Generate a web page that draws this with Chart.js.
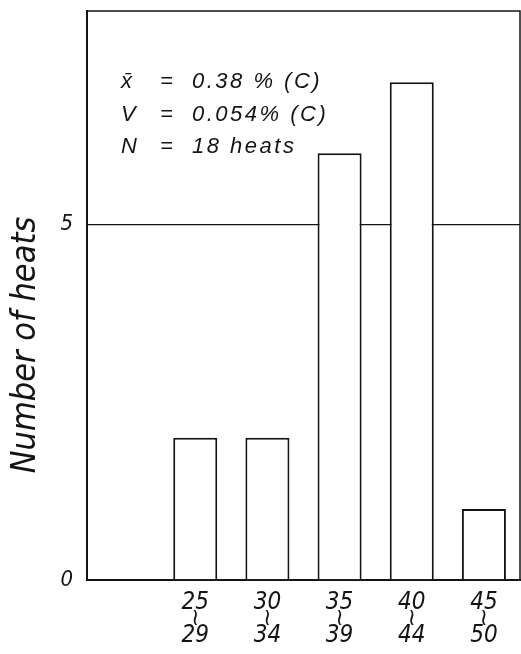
<!DOCTYPE html>
<html>
<head>
<meta charset="utf-8">
<script src="https://cdn.jsdelivr.net/npm/chart.js@4.4.1/dist/chart.umd.min.js"></script>
<style>
  body { margin: 0; background: #fff; }
  canvas { display: block; }
</style>
</head>
<body>
<canvas id="grafico" width="521" height="654"></canvas>
<script>
// data
const rangeStart = ['25', '30', '35', '40', '45'];
const rangeEnd = ['29', '34', '39', '44', '50'];
const heats = [2, 2, 6, 7, 1];
const yTicks = [0, 5];
const statLines = [
    ['x\u0304', '=', '0.38 % (C)'],
    ['V', '=', '0.054% (C)'],
    ['N', '=', '18 heats']
];

const FONT = "'DejaVu Sans Condensed', 'Liberation Sans', sans-serif";
const STAT_FONT = "'Liberation Sans', 'DejaVu Sans', sans-serif";
const INK = '#141414';

// first slot on the axis is left empty, as in the original
const labels = [''].concat(rangeStart.map((s, i) => [s, '\u2240', rangeEnd[i]]));
const values = [null].concat(heats);

// frame, y title and the statistics block
const extras = {
    id: 'extras',
    afterDraw(chart) {
        const ctx = chart.ctx;
        const a = chart.chartArea;
        ctx.save();
        ctx.strokeStyle = INK;
        ctx.lineWidth = 1.5;
        ctx.beginPath();
        ctx.moveTo(a.left, a.top);
        ctx.lineTo(a.right, a.top);
        ctx.lineTo(a.right, a.bottom);
        ctx.stroke();

        ctx.fillStyle = INK;
        ctx.font = 'italic 34px ' + FONT;
        ctx.textAlign = 'center';
        ctx.textBaseline = 'middle';
        ctx.translate(26, 345);
        ctx.rotate(-Math.PI / 2);
        ctx.fillText('Number of heats', 0, 0);
        ctx.restore();

        ctx.save();
        ctx.fillStyle = INK;
        ctx.font = 'italic 22px ' + STAT_FONT;
        ctx.textBaseline = 'alphabetic';
        const baselines = [88, 121, 153];
        statLines.forEach((ln, i) => {
            ctx.letterSpacing = '0px';
            ctx.fillText(ln[0], 121, baselines[i]);
            ctx.fillText(ln[1], 160, baselines[i]);
            ctx.letterSpacing = '2.5px';
            ctx.fillText(ln[2], 192, baselines[i]);
        });
        ctx.restore();
    }
};

new Chart(document.getElementById('grafico').getContext('2d'), {
    type: 'bar',
    data: {
        labels,
        datasets: [{
            label: 'Number of heats',
            data: values,
            backgroundColor: '#fff',
            borderColor: INK,
            borderWidth: 2,
            borderSkipped: 'bottom',
            barPercentage: 0.61,
            categoryPercentage: 1
        }]
    },
    options: {
        responsive: false,
        animation: false,
        layout: { autoPadding: false, padding: { top: 11, right: 1, left: 0, bottom: 0 } },
        plugins: {
            legend: { display: false },
            tooltip: { enabled: false }
        },
        scales: {
            x: {
                grid: { display: false, drawTicks: false },
                border: { color: INK, width: 2 },
                ticks: {
                    color: INK,
                    maxRotation: 0,
                    autoSkip: false,
                    padding: 14,
                    font: { family: FONT, size: 24, style: 'italic', lineHeight: 0.7 }
                },
                afterFit: s => { s.height = 74; }
            },
            y: {
                min: 0,
                max: 8,
                afterBuildTicks: s => { s.ticks = yTicks.map(v => ({ value: v })); },
                grid: {
                    drawTicks: false,
                    color: c => (c.tick && c.tick.value === 5 ? INK : 'rgba(0,0,0,0)'),
                    lineWidth: 1.3
                },
                border: { color: INK, width: 2 },
                ticks: {
                    color: INK,
                    padding: 14,
                    font: { family: FONT, size: 22, style: 'italic' }
                },
                afterFit: s => {
                    s.width = 87;
                    s.paddingTop = 0;
                    s.paddingBottom = 0;
                }
            }
        }
    },
    plugins: [extras]
});
</script>
</body>
</html>
